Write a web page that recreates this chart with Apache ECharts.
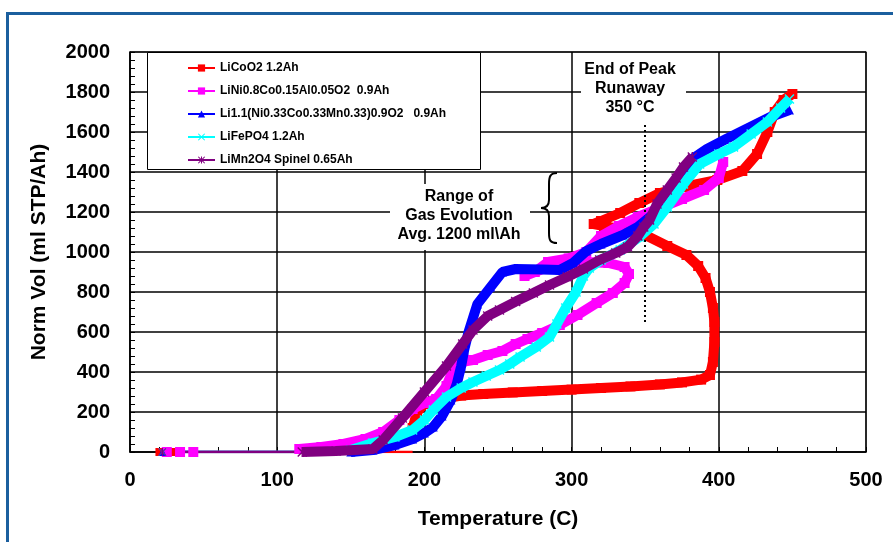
<!DOCTYPE html>
<html>
<head>
<meta charset="utf-8">
<script src="https://cdn.jsdelivr.net/npm/echarts@6/dist/echarts.min.js"></script>
<style>
  html, body { margin: 0; padding: 0; background: #fff; }
  #chart { width: 893px; height: 542px; }
</style>
</head>
<body>
<div id="chart"></div>
<script>
// names
const names = [
    'LiCoO2 1.2Ah',
    'LiNi0.8Co0.15Al0.05O2  0.9Ah',
    'Li1.1(Ni0.33Co0.33Mn0.33)0.9O2   0.9Ah',
    'LiFePO4 1.2Ah',
    'LiMn2O4 Spinel 0.65Ah',
];

// flat start at 0 (thin)
const licoo2Start = [[20, 0], [29, 0], [115, 0], [192, 0]];
const lniStart = [[25, 0], [34, 0], [43, 0]];
const lnmcStart = [[22, 0], [150, 0]];
const lfpStart = [[22, 0], [150, 0]];
const lmoStart = [[22, 0], [117, 0]];

// 温度 / 体积 (C, ml STP/Ah)
const licoo2 = [
    [192, 120], [195, 200], [200, 240], [210, 262], [225, 282], [240, 290], [260, 298],
    [280, 305], [300, 312], [320, 320], [340, 328], [360, 338], [375, 348], [388, 362],
    [394, 385], [396, 450], [397, 550], [397, 650], [396, 720], [394, 800], [391, 870],
    [386, 930], [378, 985], [365, 1030], [350, 1085], [335, 1110], [322, 1130], [315, 1140],
    [320, 1155], [333, 1195], [346, 1245], [360, 1295], [376, 1325], [399, 1360], [416, 1405],
    [426, 1490], [433, 1600], [438, 1700], [444, 1760], [450, 1790],
];
const lni = [
    [115, 15], [130, 25], [145, 40], [160, 65], [172, 100], [183, 160], [192, 215],
    [200, 245], [208, 265], [215, 330], [220, 420], [225, 450], [233, 460], [243, 485],
    [253, 505], [262, 540], [270, 565], [280, 595], [292, 635], [304, 685], [317, 745],
    [328, 795], [336, 845], [339, 890], [336, 925], [325, 945], [310, 950], [295, 945],
    [282, 920], [268, 880], [275, 900], [284, 950], [298, 968], [310, 1000], [320, 1080],
    [332, 1130], [345, 1175], [360, 1220], [375, 1265], [390, 1310], [400, 1370], [403, 1450],
];
const lnmc = [
    [150, 0], [165, 10], [180, 35], [192, 65], [200, 95], [206, 125], [212, 180],
    [218, 260], [222, 340], [225, 430], [227, 510], [230, 600], [236, 740], [245, 825],
    [253, 900], [262, 915], [280, 912], [292, 910], [301, 945], [310, 1005], [320, 1040],
    [335, 1085], [345, 1125], [355, 1185], [365, 1290], [375, 1400], [383, 1470], [392, 1515],
    [405, 1565], [420, 1620], [435, 1675], [448, 1710],
];
const lfp = [
    [150, 10], [165, 45], [180, 75], [192, 110], [200, 160], [206, 210], [215, 275],
    [225, 320], [233, 350], [242, 380], [251, 410], [258, 440], [265, 475], [276, 525],
    [285, 575], [290, 640], [296, 720], [303, 800], [308, 880], [312, 920], [320, 960],
    [333, 1010], [346, 1075], [356, 1140], [365, 1225], [376, 1340], [387, 1440], [400, 1490],
    [410, 1525], [422, 1590], [433, 1650], [442, 1720], [448, 1765],
];
const lmo = [
    [117, 0], [140, 5], [165, 15], [172, 60], [185, 170], [200, 300], [215, 430],
    [226, 540], [233, 610], [243, 680], [251, 710], [262, 752], [274, 795], [285, 835],
    [297, 875], [308, 915], [319, 960], [330, 995], [338, 1025], [345, 1080], [349, 1125],
    [353, 1160], [358, 1240], [365, 1310], [371, 1370], [376, 1425], [382, 1475],
];

const colors = ['#ff0000', '#ff00ff', '#0000ff', '#00ffff', '#800080'];
const xMark = 'path://M0,1 L1,0 L5,4 L9,0 L10,1 L6,5 L10,9 L9,10 L5,6 L1,10 L0,9 L4,5 Z';
const starMark = 'path://M0,1 L1,0 L5,4 L9,0 L10,1 L6,5 L10,9 L9,10 L5,6 L1,10 L0,9 L4,5 Z M4.3,0 L5.7,0 L5.7,10 L4.3,10 Z';
const symbols = ['rect', 'rect', 'triangle', xMark, starMark];
const symbolSizes = [10, 10, 9, 10, 10];

const mains = [licoo2, lni, lnmc, lfp, lmo];
const starts = [licoo2Start, lniStart, lnmcStart, lfpStart, lmoStart];

const series = [];
starts.forEach((d, i) => {
    series.push({
        name: 'start' + i,
        type: 'line',
        data: d,
        symbol: symbols[i],
        // only the first points carry markers
        symbolSize: v => (v[0] < 50 ? (i === 1 ? 10 : 8) : 0),
        showSymbol: true,
        color: colors[i],
        lineStyle: { width: 2.5, color: colors[i] },
        itemStyle: { color: colors[i] },
        z: 2,
        animation: false,
    });
});
mains.forEach((d, i) => {
    series.push({
        name: names[i],
        type: 'line',
        data: d,
        symbol: symbols[i],
        symbolSize: symbolSizes[i],
        showSymbol: true,
        color: colors[i],
        lineStyle: { width: 10, color: colors[i] },
        itemStyle: { color: colors[i] },
        z: 3 + i,
        animation: false,
    });
});
// End of peak runaway line
series[0].markLine = {
    silent: true,
    symbol: 'none',
    label: { show: false },
    lineStyle: { color: '#000', type: [2, 3], width: 2 },
    data: [[{ coord: [350, 1635] }, { coord: [350, 635] }]],
};

const bold = { fontFamily: 'Liberation Sans, Arial', fontWeight: 'bold', color: '#000' };

// brace pieces
const braceStyle = { fill: 'none', stroke: '#000', lineWidth: 2 };
const brace = [
    { type: 'bezierCurve', shape: { x1: 557, y1: 173, cpx1: 550, cpy1: 173, cpx2: 549, cpy2: 177, x2: 549, y2: 184 } },
    { type: 'line', shape: { x1: 549, y1: 184, x2: 549, y2: 200 } },
    { type: 'bezierCurve', shape: { x1: 549, y1: 200, cpx1: 549, cpy1: 205, cpx2: 547, cpy2: 208, x2: 541, y2: 208 } },
    { type: 'bezierCurve', shape: { x1: 541, y1: 208, cpx1: 547, cpy1: 208, cpx2: 549, cpy2: 211, x2: 549, y2: 216 } },
    { type: 'line', shape: { x1: 549, y1: 216, x2: 549, y2: 233 } },
    { type: 'bezierCurve', shape: { x1: 549, y1: 233, cpx1: 549, cpy1: 240, cpx2: 550, cpy2: 243, x2: 557, y2: 243 } },
].map(el => ({ ...el, z: 91, style: braceStyle }));

const chart = echarts.init(document.getElementById('chart'));
chart.setOption({
    animation: false,
    grid: {
        left: 130, top: 52, width: 736, height: 400,
        show: true, borderColor: '#7f7f7f', borderWidth: 1.5,
    },
    legend: {
        data: names,
        orient: 'vertical',
        left: 182,
        top: 56,
        z: 120,
        itemWidth: 27,
        itemHeight: 9,
        itemGap: 9,
        lineStyle: { width: 2 },
        textStyle: { ...bold, fontSize: 12, lineHeight: 14, height: 14 },
    },
    xAxis: {
        type: 'value',
        min: 0, max: 500, interval: 100,
        name: 'Temperature (C)',
        nameLocation: 'middle',
        nameGap: 57,
        nameTextStyle: { ...bold, fontSize: 21 },
        axisLine: { lineStyle: { color: '#000', width: 1.5 } },
        axisTick: { inside: true, length: 5, lineStyle: { color: '#000' } },
        minorTick: { show: true, splitNumber: 5, length: 5, lineStyle: { color: '#000' } },
        splitLine: { show: true, lineStyle: { color: '#000', width: 1.5 } },
        axisLabel: { ...bold, fontSize: 20, margin: 18 },
    },
    yAxis: {
        type: 'value',
        min: 0, max: 2000, interval: 200,
        name: 'Norm Vol (ml STP/Ah)',
        nameLocation: 'middle',
        nameGap: 80,
        nameTextStyle: { ...bold, fontSize: 21 },
        axisLine: { show: true, lineStyle: { color: '#000', width: 1.5 } },
        axisTick: { inside: true, length: 5, lineStyle: { color: '#000' } },
        minorTick: { show: true, splitNumber: 5, length: 5, lineStyle: { color: '#000' } },
        splitLine: { show: true, lineStyle: { color: '#000', width: 1.5 } },
        axisLabel: { ...bold, fontSize: 20, margin: 20, formatter: v => String(v) },
    },
    graphic: [
        // outer frame
        {
            type: 'rect', z: 100,
            shape: { x: 7.5, y: 13.5, width: 950, height: 600 },
            style: { fill: 'none', stroke: '#1b5f9e', lineWidth: 3 },
        },
        // legend box
        {
            type: 'rect', z: 90,
            shape: { x: 147.5, y: 52.5, width: 333, height: 117 },
            style: { fill: '#fff', stroke: '#000', lineWidth: 1 },
        },
        // End of Peak label
        {
            type: 'rect', z: 90,
            shape: { x: 581, y: 56, width: 105, height: 62 },
            style: { fill: '#fff' },
        },
        {
            type: 'text', z: 91, x: 630, y: 60,
            style: {
                text: 'End of Peak\nRunaway\n350 °C',
                font: 'bold 16px Liberation Sans, Arial',
                fill: '#000', align: 'center', lineHeight: 19,
            },
        },
        // Range of gas evolution label
        {
            type: 'rect', z: 90,
            shape: { x: 390, y: 184, width: 140, height: 66 },
            style: { fill: '#fff' },
        },
        {
            type: 'text', z: 91, x: 459, y: 187,
            style: {
                text: 'Range of\nGas Evolution\nAvg. 1200 ml\\Ah',
                font: 'bold 16px Liberation Sans, Arial',
                fill: '#000', align: 'center', lineHeight: 19,
            },
        },
        ...brace,
    ],
    series,
});
</script>
</body>
</html>
